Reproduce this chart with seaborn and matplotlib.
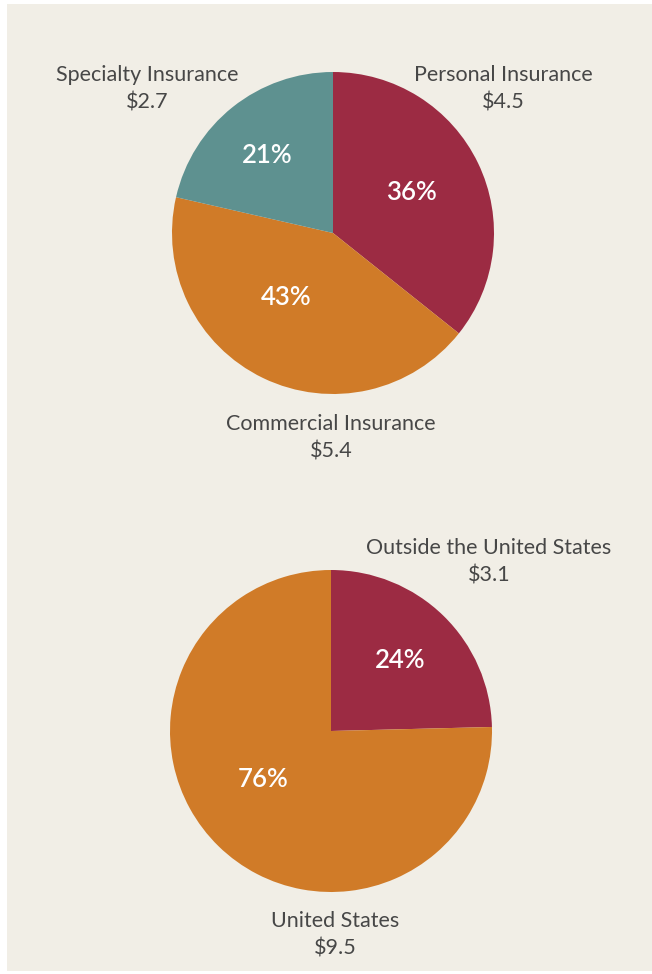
import matplotlib
matplotlib.use("Agg")
import matplotlib.pyplot as plt
import seaborn as sns
from matplotlib.patches import Rectangle

# ---- data ----
seg_labels = ["Personal Insurance", "Commercial Insurance", "Specialty Insurance"]
seg_values = [4.5, 5.4, 2.7]
seg_pcts = ["36%", "43%", "21%"]

geo_labels = ["Outside the United States", "United States"]
geo_values = [3.1, 9.5]
geo_pcts = ["24%", "76%"]

sns.set_theme(style="white")
plt.rcParams["font.family"] = ["Lato", "DejaVu Sans"]

RED = "#9c2b43"
ORANGE = "#d07b28"
TEAL = "#5e9190"
BG = "#f1eee6"
TXT = "#474747"

W, H = 652, 974
fig = plt.figure(figsize=(W / 100, H / 100), dpi=100, facecolor="white")
fig.patches.append(Rectangle((7 / W, 3 / H), (W - 7) / W, (H - 7) / H,
                             transform=fig.transFigure, facecolor=BG,
                             edgecolor="none", zorder=-10))


def draw_pie(cx, cy, r, values, colors, pcts, pct_pos, labels, label_pos):
    ax = fig.add_axes([(cx - r) / W, (H - cy - r) / H, 2 * r / W, 2 * r / H])
    ax.set_facecolor("none")
    ax.set_zorder(2)
    wedges, _ = ax.pie(values, colors=colors, startangle=90, counterclock=False,
                       radius=1, wedgeprops=dict(linewidth=0))
    for p, (x, y) in zip(pcts, pct_pos):
        ax.text(x, y, p, ha="center", va="center", color="white",
                fontsize=18.5, fontweight="semibold")
    ax.set_xlim(-1, 1)
    ax.set_ylim(-1, 1)
    ax.axis("off")
    for (name, val), (lx, ly) in zip(zip(labels, values), label_pos):
        fig.text(lx / W, 1 - ly / H, f"{name}\n${val}", ha="center", va="center",
                 color=TXT, fontsize=15.5, fontweight="normal", linespacing=1.45,
                 zorder=5)


draw_pie(333, 233, 161, seg_values, [RED, ORANGE, TEAL], seg_pcts,
         [(0.49, 0.25), (-0.29, -0.40), (-0.41, 0.48)],
         seg_labels, [(503, 89), (331, 438), (147, 89)])

draw_pie(331, 731, 161, geo_values, [RED, ORANGE], geo_pcts,
         [(0.43, 0.44), (-0.42, -0.30)],
         geo_labels, [(489, 562), (335, 935)])

fig.savefig("out.png", dpi=100, facecolor=fig.get_facecolor())
